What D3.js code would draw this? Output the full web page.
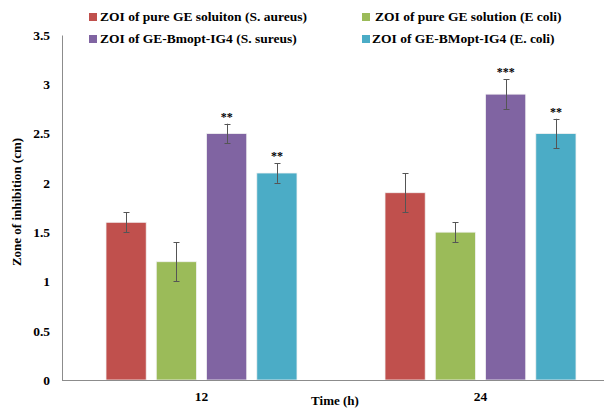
<!DOCTYPE html>
<html>
<head>
<meta charset="utf-8">
<script src="https://cdn.jsdelivr.net/npm/d3@7"></script>
<style>
  html, body { margin: 0; padding: 0; background: #fff; }
</style>
</head>
<body>
<svg id="chart" width="608" height="409"></svg>
<script>
// Time points (h)
const times = ["12", "24"];
// Series names
const seriesNames = [
  "ZOI of pure GE soluiton (S. aureus)",
  "ZOI of pure GE solution (E coli)",
  "ZOI of GE-Bmopt-IG4 (S. sureus)",
  "ZOI of GE-BMopt-IG4 (E. coli)"
];
// Zone of inhibition means (cm), one array per series, ordered by time
const pureSA   = [1.6, 1.9];
const pureEC   = [1.2, 1.5];
const bmoptSA  = [2.5, 2.9];
const bmoptEC  = [2.1, 2.5];
// Error bar half-widths (cm)
const errPureSA  = [0.1, 0.2];
const errPureEC  = [0.2, 0.1];
const errBmoptSA = [0.1, 0.15];
const errBmoptEC = [0.1, 0.15];
// Significance marks
const sigPureSA  = ["", ""];
const sigPureEC  = ["", ""];
const sigBmoptSA = ["**", "***"];
const sigBmoptEC = ["**", "**"];
// Y axis ticks
const yTicks = [0, 0.5, 1, 1.5, 2, 2.5, 3, 3.5];

const colors = ["#C0504D", "#9BBB59", "#8064A2", "#4BACC6"];
const values = [pureSA, pureEC, bmoptSA, bmoptEC];
const errors = [errPureSA, errPureEC, errBmoptSA, errBmoptEC];
const sigs = [sigPureSA, sigPureEC, sigBmoptSA, sigBmoptEC];

const FONT = "'Liberation Serif', 'Times New Roman', Times, serif";

const svg = d3.select("#chart");
const mLeft = 62, mRight = 620, mTop = 35, mBottom = 380;

const x = d3.scaleBand().domain(times).range([mLeft, mRight]);
// bars of one time point span ~191px, centred in each band
const groupWidth = 191;
const inner = d3.scaleBand().domain(d3.range(seriesNames.length))
  .range([0, groupWidth]).paddingInner(0.2).paddingOuter(0);
const y = d3.scaleLinear().domain([0, 3.5]).range([mBottom, mTop]);

const styleText = sel => sel
  .style("font-family", FONT)
  .style("font-weight", "bold")
  .style("fill", "#000");

// Y axis
const yAxis = svg.append("g")
  .attr("transform", `translate(${mLeft},0)`)
  .call(d3.axisLeft(y).tickValues(yTicks).tickSize(0).tickPadding(12)
    .tickFormat(d => d3.format("")(d)));
yAxis.select(".domain").attr("stroke", "#8c8c8c").attr("stroke-width", 1);
yAxis.selectAll("text").style("font-size", "13.5px").call(styleText);

// Bars
const rows = [];
times.forEach((t, ti) => {
  seriesNames.forEach((s, si) => {
    rows.push({ t, si, v: values[si][ti], e: errors[si][ti], sig: sigs[si][ti] });
  });
});
const bx = d => x(d.t) + (x.bandwidth() - groupWidth) / 2 + inner(d.si);
const bw = inner.bandwidth();

svg.append("g").selectAll("rect").data(rows).join("rect")
  .attr("x", bx)
  .attr("y", d => y(d.v))
  .attr("width", bw)
  .attr("height", d => y(0) - y(d.v))
  .attr("fill", d => colors[d.si])
  .attr("stroke", "#f2f2f2")
  .attr("stroke-width", 0.8);

// X axis line
svg.append("line")
  .attr("x1", mLeft).attr("x2", 604)
  .attr("y1", y(0) + 0.5).attr("y2", y(0) + 0.5)
  .attr("stroke", "#8c8c8c").attr("stroke-width", 1.2);

// Error bars
const eb = svg.append("g").attr("stroke", "#555").attr("stroke-width", 1);
rows.forEach(d => {
  const cx = Math.round(bx(d) + bw / 2) + 0.5;
  eb.append("line").attr("x1", cx).attr("x2", cx)
    .attr("y1", y(d.v + d.e)).attr("y2", y(d.v - d.e));
  [d.v + d.e, d.v - d.e].forEach(val => {
    eb.append("line").attr("x1", cx - 3).attr("x2", cx + 3)
      .attr("y1", Math.round(y(val)) + 0.5).attr("y2", Math.round(y(val)) + 0.5);
  });
});

// Significance marks
svg.append("g").selectAll("text").data(rows.filter(d => d.sig)).join("text")
  .attr("x", d => bx(d) + bw / 2)
  .attr("y", d => y(d.v + d.e) - 3)
  .attr("text-anchor", "middle")
  .style("font-size", "12px")
  .call(styleText)
  .text(d => d.sig);

// X tick labels
svg.append("g").selectAll("text").data(times).join("text")
  .attr("x", d => x(d) + x.bandwidth() / 2)
  .attr("y", 401)
  .attr("text-anchor", "middle")
  .style("font-size", "13.5px")
  .call(styleText)
  .text(d => d);

// Axis titles
svg.append("text")
  .attr("x", 335).attr("y", 405)
  .attr("text-anchor", "middle")
  .style("font-size", "13px")
  .call(styleText)
  .text("Time (h)");
svg.append("text")
  .attr("transform", "translate(21,202) rotate(-90)")
  .attr("text-anchor", "middle")
  .style("font-size", "13px")
  .call(styleText)
  .text("Zone of inhibition (cm)");

// Legend
const legendPos = [
  { x: 89, y: 21 }, { x: 362, y: 21 },
  { x: 89, y: 43 }, { x: 362, y: 43 }
];
const textOffset = [11, 13, 11, 10];
const lg = svg.append("g");
seriesNames.forEach((s, i) => {
  const p = legendPos[i];
  lg.append("rect").attr("x", p.x).attr("y", p.y - 8)
    .attr("width", 8).attr("height", 8).attr("fill", colors[i]);
  lg.append("text").attr("x", p.x + textOffset[i]).attr("y", p.y)
    .style("font-size", "13.5px")
    .call(styleText)
    .text(s);
});
</script>
</body>
</html>
